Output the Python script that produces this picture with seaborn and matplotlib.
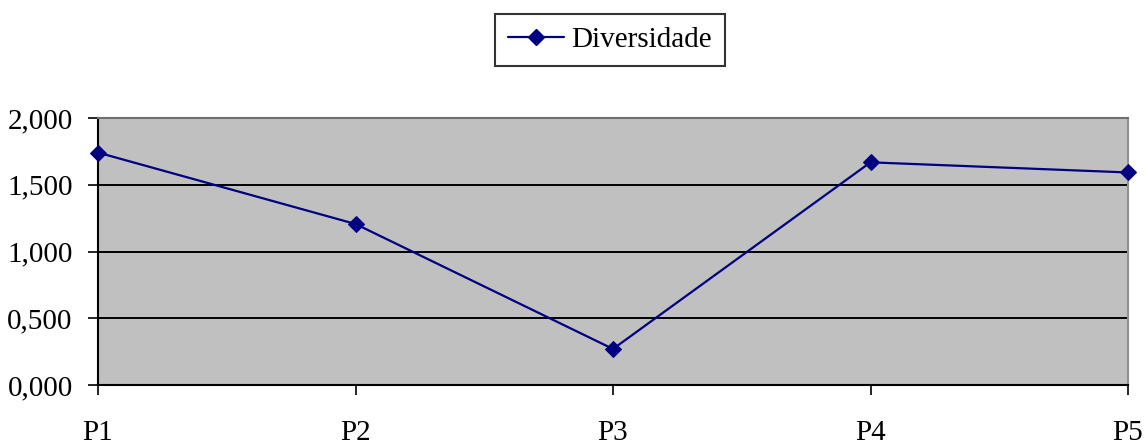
import matplotlib
matplotlib.use("Agg")
import matplotlib.pyplot as plt
import seaborn as sns
import pandas as pd

categories = ["P1", "P2", "P3", "P4", "P5"]
diversidade = [1.741, 1.206, 0.270, 1.668, 1.592]
y_ticks = [0.0, 0.5, 1.0, 1.5, 2.0]
y_tick_labels = ["0,000", "0,500", "1,000", "1,500", "2,000"]
series_name = "Diversidade"

sns.set_theme(style="white")
plt.rcParams['font.family'] = ['Liberation Serif', 'DejaVu Serif']

df = pd.DataFrame({"x": list(range(len(categories))), "y": diversidade})

fig = plt.figure(figsize=(11.45, 4.44), dpi=100)
ax = fig.add_axes([98/1145, 1-385/444, (1128-98)/1145, (385-118)/444])
ax.set_facecolor("#C0C0C0")

for yv in y_ticks[1:-1]:
    ax.axhline(yv, color="black", lw=1.4, zorder=1)

sns.lineplot(data=df, x="x", y="y", ax=ax, color="#000080", marker="D",
             markersize=8.5, markeredgecolor="#000080", lw=1.6, label=series_name,
             zorder=3, clip_on=False, legend=False)

ax.set_xlim(0, len(categories) - 1)
ax.set_ylim(0, 2.0)
ax.set_xticks(range(len(categories)))
ax.set_xticklabels(categories)
ax.set_yticks(y_ticks)
ax.set_yticklabels(y_tick_labels)
ax.set_xlabel("")
ax.set_ylabel("")

ax.tick_params(axis="x", direction="out", length=7.2, width=1.2, color="black",
               pad=18, labelsize=21, bottom=True, labelcolor="black")
ax.tick_params(axis="y", direction="out", length=7.2, width=1.2, color="black",
               pad=11, labelsize=21, left=True, labelcolor="black")

for side in ["left", "bottom"]:
    ax.spines[side].set_color("black")
    ax.spines[side].set_linewidth(1.5)
ax.spines["top"].set_color("#707070")
ax.spines["top"].set_linewidth(1.5)
ax.spines["right"].set_color("#909090")
ax.spines["right"].set_linewidth(1.5)

handles = [plt.Line2D([], [], color="#000080", marker="D", markersize=8.5, lw=1.6)]
leg = fig.legend(handles, [series_name], loc="center", bbox_to_anchor=(610/1145, 1-40/444),
                 frameon=True, fancybox=False, fontsize=21, handlelength=1.9,
                 handletextpad=0.25, borderpad=0.45, borderaxespad=0)
leg.get_frame().set_edgecolor("black")
leg.get_frame().set_linewidth(1.5)
for t in leg.get_texts():
    t.set_color("black")

fig.savefig("out.png", dpi=100)
